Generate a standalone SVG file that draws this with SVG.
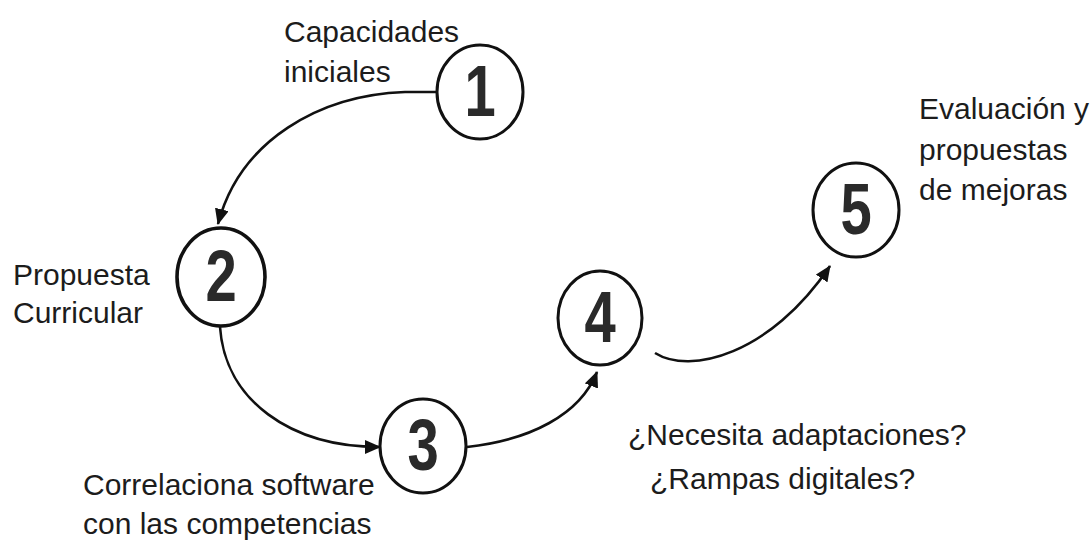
<svg xmlns="http://www.w3.org/2000/svg" width="1091" height="541" viewBox="0 0 1091 541">
<defs>
<style>
.lbl{font-family:"Liberation Sans",Arial,sans-serif;font-size:30px;fill:#1c1c1c}
.num{font-family:"Liberation Sans",Arial,sans-serif;font-size:72px;font-weight:bold;fill:#2a2a2a;text-anchor:middle}
.ring{fill:#fff;stroke:#111;stroke-width:3}
.conn{fill:none;stroke:#111;stroke-width:2.6}
</style>
<marker id="ah" markerUnits="userSpaceOnUse" markerWidth="16" markerHeight="14" refX="15" refY="7" orient="auto">
<path d="M0,0 L16,7 L0,14 z" fill="#111"/>
</marker>
</defs>
<rect width="1091" height="541" fill="#fff"/>
<g id="connectors">
<path class="conn" d="M437,92 L405,92 C320,95 240,140 218,224" marker-end="url(#ah)"/>
<path class="conn" d="M220,327 C225,400 290,447 380,447" marker-end="url(#ah)"/>
<path class="conn" d="M467,447 C530,440 580,415 597,372" marker-end="url(#ah)"/>
<path class="conn" d="M655,353 C690,375 770,355 830,266" marker-end="url(#ah)"/>
</g>
<g id="node1">
<ellipse class="ring" cx="480" cy="92" rx="43" ry="47"/>
<text class="num" transform="translate(480,116) scale(0.78,1)">1</text>
<text class="lbl" x="284" y="42">Capacidades</text>
<text class="lbl" x="284" y="82">iniciales</text>
</g>
<g id="node2">
<ellipse class="ring" cx="221" cy="277" rx="44" ry="49" style="stroke-width:3.6"/>
<text class="num" transform="translate(221,301) scale(0.78,1)">2</text>
<text class="lbl" x="13" y="285">Propuesta</text>
<text class="lbl" x="13" y="323">Curricular</text>
</g>
<g id="node3">
<ellipse class="ring" cx="423" cy="446" rx="43" ry="47"/>
<text class="num" transform="translate(423,470) scale(0.78,1)">3</text>
<text class="lbl" x="83" y="495">Correlaciona software</text>
<text class="lbl" x="83" y="534">con las competencias</text>
</g>
<g id="node4">
<ellipse class="ring" cx="600" cy="318" rx="42" ry="47"/>
<text class="num" transform="translate(600,342) scale(0.78,1)">4</text>
<text class="lbl" x="628" y="445">¿Necesita adaptaciones?</text>
<text class="lbl" x="650" y="489">¿Rampas digitales?</text>
</g>
<g id="node5">
<ellipse class="ring" cx="856" cy="210" rx="43" ry="47"/>
<text class="num" transform="translate(856,234) scale(0.78,1)">5</text>
<text class="lbl" x="919" y="119">Evaluación y</text>
<text class="lbl" x="919" y="160">propuestas</text>
<text class="lbl" x="919" y="200">de mejoras</text>
</g>
</svg>
